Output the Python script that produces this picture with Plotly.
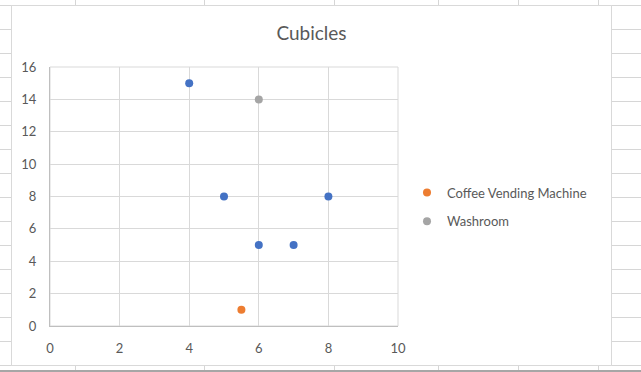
import plotly.graph_objects as go

# ---- data ----
cubicles_x = [4, 5, 6, 7, 8]
cubicles_y = [15, 8, 5, 5, 8]
coffee_x = [5.5]
coffee_y = [1]
washroom_x = [6]
washroom_y = [14]

x_ticks = [0, 2, 4, 6, 8, 10]
y_ticks = [0, 2, 4, 6, 8, 10, 12, 14, 16]

W, H = 641, 372
L, R, T, B = 50, 398, 67, 326  # plot area in pixels


def px(p):
    return (p - L) / (R - L)


def py(p):
    return (B - p) / (B - T)


GRID = "#d9d9d9"
SHEET = "#d6d6d6"
TXT = "#595959"
FONT = "Lato, 'Open Sans', sans-serif"

fig = go.Figure()
fig.add_trace(go.Scatter(x=cubicles_x, y=cubicles_y, mode="markers", name="Cubicles",
                         marker=dict(color="#4472C4", size=8), showlegend=False))
fig.add_trace(go.Scatter(x=coffee_x, y=coffee_y, mode="markers", name="Coffee Vending Machine",
                         marker=dict(color="#ED7D31", size=8), legendgroup="a"))
fig.add_trace(go.Scatter(x=washroom_x, y=washroom_y, mode="markers", name="Washroom",
                         marker=dict(color="#A5A5A5", size=8), legendgroup="b"))

shapes = []
# spreadsheet rows
for k in range(16):
    y = 5.5 + 24 * k
    shapes.append(dict(type="line", xref="paper", yref="paper", x0=px(0), x1=px(W),
                       y0=py(y), y1=py(y), line=dict(color=SHEET, width=1), layer="below"))
# spreadsheet columns
for c in [75.5, 204.5, 334.5, 438.5, 518.5, 598.5]:
    shapes.append(dict(type="line", xref="paper", yref="paper", x0=px(c), x1=px(c),
                       y0=py(0), y1=py(371), line=dict(color=SHEET, width=1), layer="below"))
# chart area
shapes.append(dict(type="rect", xref="paper", yref="paper", x0=px(11.5), x1=px(611.5),
                   y0=py(5.5), y1=py(365.5), fillcolor="white",
                   line=dict(color=GRID, width=1), layer="below"))
# plot area frame (top / right gridlines)
shapes.append(dict(type="rect", xref="paper", yref="paper", x0=0, x1=1, y0=0, y1=1,
                   line=dict(color=GRID, width=1), layer="below"))
# bottom edge
shapes.append(dict(type="line", xref="paper", yref="paper", x0=px(0), x1=px(W),
                   y0=py(371), y1=py(371), line=dict(color="#a6a6a6", width=2), layer="below"))

fig.update_layout(
    width=W, height=H, autosize=False,
    margin=dict(l=L, r=W - R, t=T, b=H - B, pad=0),
    paper_bgcolor="white", plot_bgcolor="white",
    font=dict(family=FONT, size=13, color=TXT),
    title=dict(text="Cubicles", x=px(311.5), xref="paper", xanchor="center",
               y=1 - 33.5 / H, yref="container", yanchor="middle",
               font=dict(family=FONT, size=19, color=TXT)),
    showlegend=True,
    legend=dict(x=px(407), xanchor="left", y=py(207), yanchor="middle",
                traceorder="grouped", tracegroupgap=9, bgcolor="rgba(0,0,0,0)",
                font=dict(family=FONT, size=13, color=TXT)),
    shapes=shapes,
)
fig.update_xaxes(range=[0, 10], tickvals=x_ticks, showgrid=True, gridcolor=GRID, gridwidth=1,
                 zeroline=False, showline=True, linecolor="#bfbfbf", linewidth=1,
                 ticks="", ticklabelstandoff=10, automargin=False, fixedrange=True)
fig.update_yaxes(range=[0, 16], tickvals=y_ticks, showgrid=True, gridcolor=GRID, gridwidth=1,
                 zeroline=False, showline=True, linecolor="#bfbfbf", linewidth=1,
                 ticks="", ticklabelstandoff=10, automargin=False, fixedrange=True)

fig.write_html("out.html",
               config={"displayModeBar": False},
               post_script="document.body.style.margin='0';document.body.style.overflow='hidden';")
